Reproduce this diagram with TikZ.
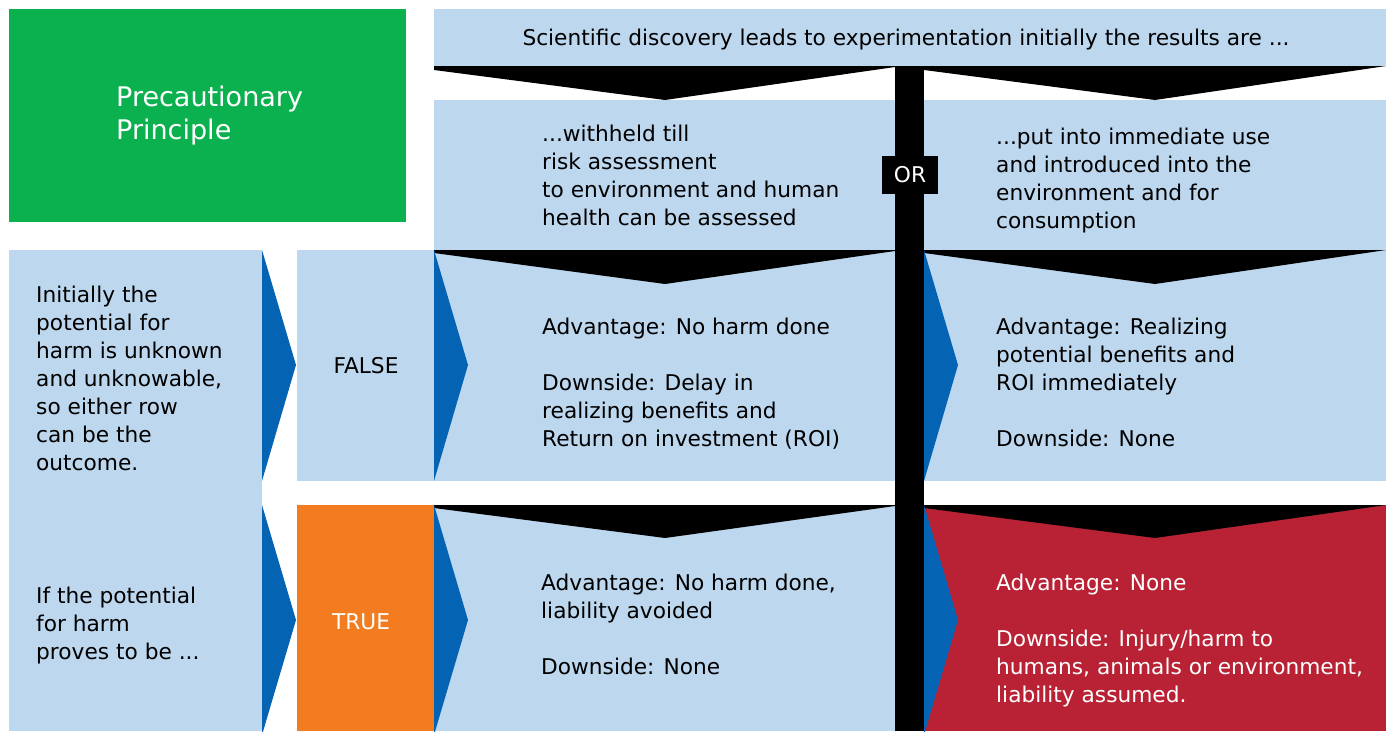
\documentclass[tikz,border=0pt]{standalone}
\usepackage{fontspec}
\setmainfont{DejaVu Sans}
\definecolor{lb}{HTML}{BDD7EE}
\definecolor{pgreen}{HTML}{0BB14E}
\definecolor{porange}{HTML}{F37B20}
\definecolor{pred}{HTML}{B82234}
\definecolor{dblue}{HTML}{0563B4}
\begin{document}
\begin{tikzpicture}[x=1pt,y=-1pt,
  box/.style={anchor=north west, inner sep=0pt, outer sep=0pt, fill=lb},
  txt/.style={anchor=west, inner sep=0pt, align=left, font=\fontsize{21.7}{28}\selectfont},
  ctxt/.style={anchor=center, inner sep=0pt, font=\fontsize{21.7}{28}\selectfont},
  vee/.style={fill=black},
  tri/.style={fill=dblue}]
\useasboundingbox (0,0) rectangle (1389,731);
% boxes
\node[box, fill=pgreen, minimum width=397pt, minimum height=213pt] (green) at (9,9) {};
\node[box, minimum width=952pt, minimum height=57pt] (top) at (434,9) {};
\node[box, minimum width=461pt, minimum height=150pt] (held) at (434,100) {};
\node[box, minimum width=462pt, minimum height=150pt] (use) at (924,100) {};
\node[box, minimum width=253pt, minimum height=481pt] (left) at (9,250) {};
\node[box, minimum width=137pt, minimum height=231pt] (false) at (297,250) {};
\node[box, minimum width=461pt, minimum height=231pt] (mid2) at (434,250) {};
\node[box, minimum width=462pt, minimum height=231pt] (right2) at (924,250) {};
\node[box, fill=porange, minimum width=137pt, minimum height=226pt] (true) at (297,505) {};
\node[box, minimum width=461pt, minimum height=226pt] (mid3) at (434,505) {};
\node[box, fill=pred, minimum width=462pt, minimum height=226pt] (red) at (924,505) {};
% black chevrons
\fill[vee] (434,66) -- (895,66) -- (895,67) -- (665,100) -- (434,70) -- cycle;
\fill[vee] (924,66) -- (1386,66) -- (1155,100) -- (924,70) -- cycle;
\fill[vee] (434,250) -- (895,250) -- (895,251) -- (665,284) -- (434,253) -- cycle;
\fill[vee] (924,250) -- (1386,250) -- (1155,284) -- (924,253) -- cycle;
\fill[vee] (434,505) -- (895,505) -- (895,506) -- (665,538) -- (434,508) -- cycle;
\fill[vee] (924,505) -- (1386,505) -- (1155,538) -- (924,508) -- cycle;
% dark blue arrows
\fill[tri] (262,250) -- (296,365) -- (262,481) -- cycle;
\fill[tri] (262,505) -- (296,620) -- (262,735) -- cycle;
\fill[tri] (434,250) -- (468,365) -- (434,481) -- cycle;
\fill[tri] (434,505) -- (468,620) -- (434,735) -- cycle;
\fill[tri] (924,250) -- (958,365) -- (924,481) -- cycle;
\fill[tri] (924,505) -- (958,620) -- (924,735) -- cycle;
% black bar and OR
\node[box, fill=black, minimum width=29pt, minimum height=665pt] (bar) at (895,66) {};
\node[box, fill=black, minimum width=56pt, minimum height=38pt] (orbox) at (882,156) {};
\node[ctxt, text=white] (or) at ([yshift=-2pt]orbox.center) {\strut OR};
% texts
\node[txt, text=white, font=\fontsize{27}{33}\selectfont] (title) at (116,116)
  {\strut Precautionary\\\strut Principle};
\node[ctxt] (toptxt) at (906,39.5) {\strut Scientific discovery leads to experimentation initially the results are ...};
\node[txt] (heldtxt) at (542,178) {\strut ...withheld till\\\strut risk assessment\\\strut to environment and human\\\strut health can be assessed};
\node[txt] (usetxt) at (996,181) {\strut ...put into immediate use\\\strut and introduced into the\\\strut environment and for\\\strut consumption};
\node[txt] (lefttxt) at (36,381) {\strut Initially the\\\strut potential for\\\strut harm is unknown\\\strut and unknowable,\\\strut so either row\\\strut can be the\\\strut outcome.};
\node[txt] (lefttxt2) at (36,626) {\strut If the potential\\\strut for harm\\\strut proves to be ...};
\node[ctxt] (falsetxt) at (366,367.5) {\strut FALSE};
\node[ctxt, text=white] (truetxt) at (361,623.5) {\strut TRUE};
\node[txt] (mid2txt) at (542,385) {\strut Advantage: No harm done\\\strut\\\strut Downside: Delay in\\\strut realizing benefits and\\\strut Return on investment (ROI)};
\node[txt] (right2txt) at (996,385) {\strut Advantage: Realizing\\\strut potential benefits and\\\strut ROI immediately\\\strut\\\strut Downside: None};
\node[txt] (mid3txt) at (541,627) {\strut Advantage: No harm done,\\\strut liability avoided\\\strut\\\strut Downside: None};
\node[txt, text=white] (redtxt) at (996,641) {\strut Advantage: None\\\strut\\\strut Downside: Injury/harm to\\\strut humans, animals or environment,\\\strut liability assumed.};
\end{tikzpicture}
\end{document}
